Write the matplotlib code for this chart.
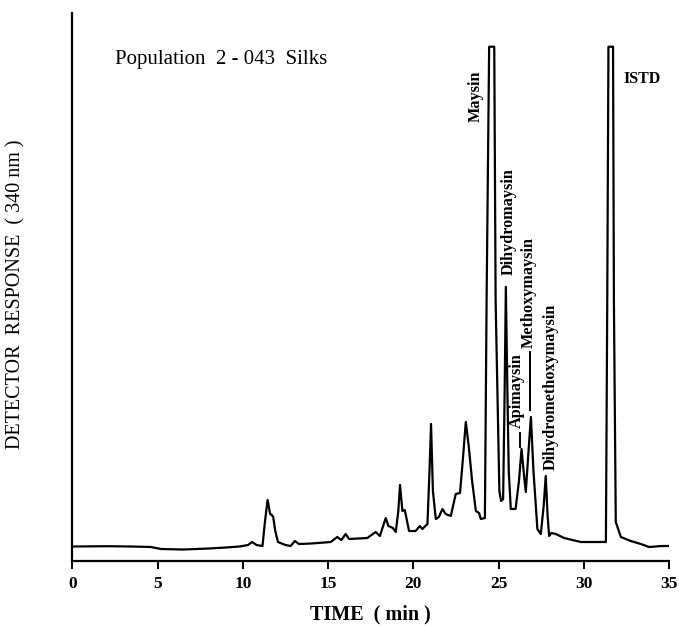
import matplotlib
matplotlib.use("Agg")
import matplotlib.pyplot as plt

# chromatogram trace (time in min, response in arbitrary units)
time_min = [0, 2, 3.5, 4.6, 5.2, 6.5, 8, 9, 9.8, 10.3, 10.55, 10.8, 11.15, 11.3,
            11.45, 11.6, 11.7, 11.78, 11.9, 12.06, 12.5, 12.8, 13.05, 13.29, 14.0,
            14.4, 15.15, 15.54, 15.78, 16.03, 16.23, 17.3, 17.79, 18.04, 18.38,
            18.54, 18.8, 18.97, 19.12, 19.22, 19.36, 19.5, 19.75, 20.14, 20.38,
            20.53, 20.83, 20.95, 21.04, 21.15, 21.32, 21.5, 21.71, 21.9, 22.2,
            22.49, 22.74, 22.9, 23.08, 23.25, 23.45, 23.67, 23.86, 23.96, 24.2,
            24.3, 24.45, 24.75, 24.83, 25.05, 25.15, 25.27, 25.36, 25.43, 25.52,
            25.6, 25.72, 26.0, 26.2, 26.35, 26.5, 26.6, 26.78, 26.9, 27.05, 27.28,
            27.48, 27.65, 27.77, 27.88, 27.97, 28.1, 28.36, 28.85, 29.83, 31.3,
            31.38, 31.45, 31.72, 31.77, 31.88, 32.18, 32.76, 33.35, 33.84, 34.55, 35]
response = [14.5, 14.8, 14.5, 14, 12, 11.5, 12.5, 13.5, 14.5, 16, 19, 16, 15, 40,
            61, 47, 46, 44, 30, 19, 16, 15, 20, 17, 17.5,
            18, 19, 24, 21, 27, 22, 23, 29, 25, 43,
            35, 33, 29, 50, 76, 50, 51, 30, 30, 35,
            32, 37, 90, 137, 70, 42, 44, 52, 47, 45,
            67, 68, 100, 139, 115, 80, 50, 48, 42, 43,
            260, 514, 514, 260, 70, 60, 62, 170, 274, 170,
            90, 52, 52, 80, 112, 85, 69, 115, 144, 90, 32,
            27, 55, 85, 45, 25, 28, 27, 23, 19, 19,
            260, 514, 514, 260, 39, 24, 20, 17, 14, 15, 15]

x_ticks = [0, 5, 10, 15, 20, 25, 30, 35]

# peak labels: (text, x, y, rotation)
peak_labels = [
    ("Maysin", 23.69, 439, 90),
    ("Dihydromaysin", 25.57, 286, 90),
    ("Methoxymaysin", 26.75, 213, 90),
    ("Apimaysin", 26.1, 133, 90),
    ("Dihydromethoxymaysin", 28.04, 91, 90),
]
# short leader dashes under some labels: (x, y_top, y_bottom)
leaders = [(26.86, 209, 151), (26.28, 128, 114)]

serif = ["Liberation Serif", "DejaVu Serif"]

fig = plt.figure(figsize=(6.79, 6.26), dpi=100)
ax = fig.add_axes([0.1067, 0.1038, 0.8785, 0.8759])

ax.plot(time_min, response, color="black", lw=1.6, solid_joinstyle="round")

for x, y0, y1 in leaders:
    ax.plot([x, x], [y0, y1], color="black", lw=1.4)

for text, x, y, rot in peak_labels:
    ax.text(x, y, text, rotation=rot, ha="center", va="bottom",
            fontsize=11.7, fontweight="bold", family=serif)

ax.text(32.33, 482, "ISTD", ha="left", va="center",
        fontsize=11.5, fontweight="bold", family=serif)
ax.text(2.5, 501, "Population  2 - 043  Silks", ha="left", va="center",
        fontsize=15, family=serif)

ax.set_xlim(0, 35)
ax.set_ylim(0, 548)
ax.spines["top"].set_visible(False)
ax.spines["right"].set_visible(False)
ax.spines["left"].set_linewidth(1.6)
ax.spines["bottom"].set_linewidth(1.6)
ax.set_yticks([])
ax.set_xticks(x_ticks)
ax.set_xticklabels([str(t) for t in x_ticks], fontsize=12.5, fontweight="bold",
                   family=serif)
ax.tick_params(axis="x", direction="out", length=6, width=1.4, pad=5)
ax.margins(0)

ax.set_xlabel("TIME  ( min )", fontsize=14.5, family=serif, fontweight="bold",
              labelpad=9)
fig.text(0.023, 0.53, "DETECTOR  RESPONSE  ( 340 nm )", rotation=90,
         ha="center", va="center", fontsize=14.5, family=serif)

fig.savefig("out.png", dpi=100)
